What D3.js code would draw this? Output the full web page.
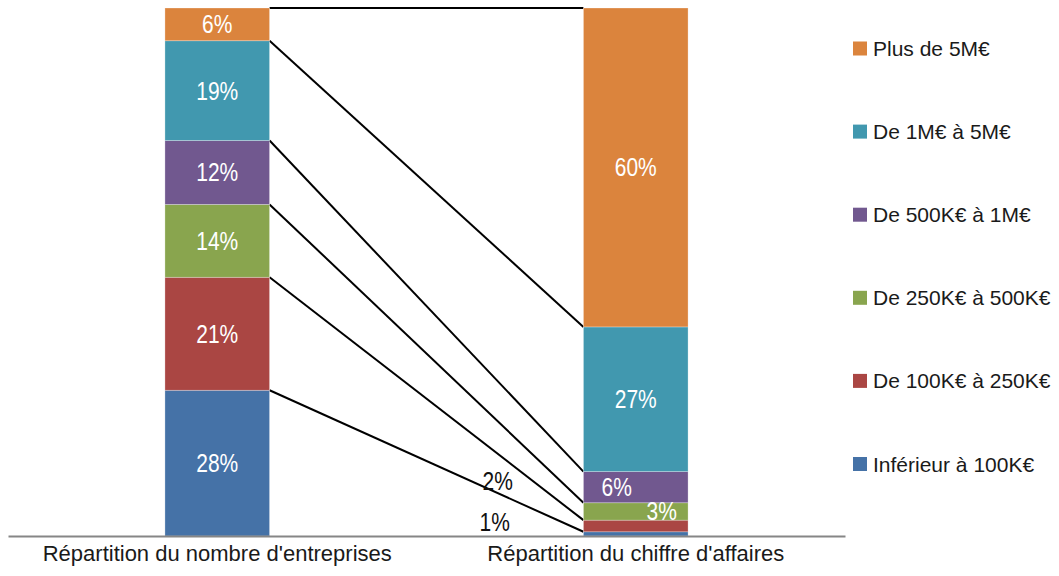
<!DOCTYPE html>
<html>
<head>
<meta charset="utf-8">
<script src="https://cdn.jsdelivr.net/npm/d3@7"></script>
<style>
  html, body { margin: 0; padding: 0; background: #fff; }
  svg { display: block; }
  text { font-family: "Liberation Sans Narrow", "Arial Narrow", "Liberation Sans", Arial, sans-serif; }
</style>
</head>
<body>
<svg id="chart" width="1059" height="576"></svg>
<script>
// Two 100% stacked columns: share of companies vs share of turnover, by turnover bracket
const categories = ["Répartition du nombre d'entreprises", "Répartition du chiffre d'affaires"];
const seriesNames = ["Inférieur à 100K€", "De 100K€ à 250K€", "De 250K€ à 500K€", "De 500K€ à 1M€", "De 1M€ à 5M€", "Plus de 5M€"];
const nombreEntreprises = [27.6, 21.4, 13.8, 12.1, 18.9, 6.2];
const chiffreAffaires = [0.8, 2.2, 3.3, 5.9, 27.4, 60.4];
const colors = ["#4572A7", "#AA4643", "#89A54E", "#71588F", "#4198AF", "#DB843D"];

const svg = d3.select("#chart");
const baseY = 536, topY = 8;

const x = d3.scaleBand().domain(categories).range([8, 845]).paddingInner(0.75).paddingOuter(0.375);
const y = d3.scaleLinear().domain([0, 100]).range([baseY, topY]);

const columns = [nombreEntreprises, chiffreAffaires];
// stack over categories: one series per bracket, one point per column
const table = categories.map((c, j) => {
  const o = { cat: c };
  seriesNames.forEach((s, i) => o[s] = columns[j][i]);
  return o;
});
const stacked = d3.stack().keys(seriesNames)(table);

// connector lines between matching segment tops
const left = categories[0], right = categories[1];
const connectors = stacked.map(s => ({ y0: s[0][1], y1: s[1][1] }));
svg.append("g").selectAll("line").data(connectors).join("line")
  .attr("x1", x(left) + x.bandwidth())
  .attr("x2", x(right))
  .attr("y1", d => y(d.y0))
  .attr("y2", d => y(d.y1))
  .attr("stroke", "#000").attr("stroke-width", 2);

// stacked segments
const g = svg.append("g");
stacked.forEach((s, i) => {
  g.selectAll(null).data(s).join("rect")
    .attr("x", d => x(d.data.cat))
    .attr("width", x.bandwidth())
    .attr("y", d => y(d[1]))
    .attr("height", d => y(d[0]) - y(d[1]))
    .attr("fill", colors[i])
    .attr("stroke", "rgba(255,255,255,0.35)")
    .attr("stroke-width", 0.8);
});

// axis
const axis = svg.append("g").attr("transform", `translate(0,${baseY})`)
  .call(d3.axisBottom(x).tickSize(0).tickPadding(9));
axis.select(".domain").attr("stroke", "#868686").attr("stroke-width", 2);
axis.selectAll(".tick text").attr("font-size", 22).attr("fill", "#1a1a1a")
  .style("font-family", '"Liberation Sans Narrow", "Arial Narrow", "Liberation Sans", Arial, sans-serif');

// data labels (condensed look via horizontal scaling)
const fmt = v => Math.round(v) + "%";
const labelG = svg.append("g");
stacked.forEach((s, i) => {
  s.forEach((d, j) => {
    const v = d[1] - d[0];
    const cx = x(d.data.cat) + x.bandwidth() / 2;
    const cy = (y(d[0]) + y(d[1])) / 2;
    let tx = cx, ty = cy + 9, fill = "#fff";
    if (j === 1) {
      if (i === 0) { tx = cx - 141; ty = 531; fill = "#111"; }       // 1%
      else if (i === 1) { tx = cx - 138; ty = 490; fill = "#111"; }  // 2%
      else if (i === 2) { tx = cx + 26; ty = cy + 9; }               // 3%
      else if (i === 3) { tx = cx - 19; ty = cy + 9; }               // 6%
    }
    labelG.append("text")
      .attr("transform", `translate(${tx},${ty}) scale(0.84,1)`)
      .attr("text-anchor", "middle")
      .attr("font-size", 25)
      .attr("fill", fill)
      .text(fmt(v));
  });
});

// legend, top item is the last series
const legend = svg.append("g");
const legendItems = seriesNames.slice().reverse();
const ly = d3.scalePoint().domain(legendItems).range([48.5, 464]);
legendItems.forEach((name) => {
  const i = seriesNames.indexOf(name);
  const gg = legend.append("g").attr("transform", `translate(853,${ly(name)})`);
  gg.append("rect").attr("x", 0).attr("y", -7).attr("width", 14).attr("height", 14).attr("fill", colors[i]);
  gg.append("text").attr("x", 20).attr("y", 7.5).attr("font-size", 21).attr("fill", "#1a1a1a").text(name);
});
</script>
</body>
</html>
